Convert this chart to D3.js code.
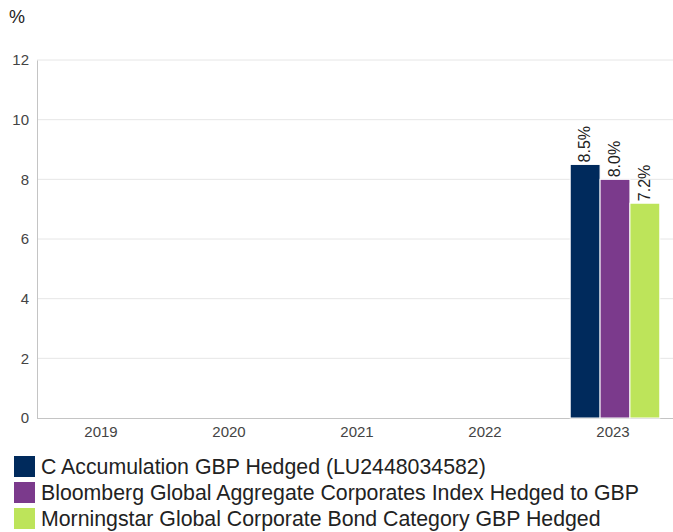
<!DOCTYPE html>
<html>
<head>
<meta charset="utf-8">
<script src="https://cdn.jsdelivr.net/npm/d3@7"></script>
<style>
  body { margin: 0; background: #fff; font-family: Arial, "Liberation Sans", sans-serif; }
</style>
</head>
<body>
<div id="chart"></div>
<script>
const years = ["2019", "2020", "2021", "2022", "2023"];
const seriesNames = [
  "C Accumulation GBP Hedged (LU2448034582)",
  "Bloomberg Global Aggregate Corporates Index Hedged to GBP",
  "Morningstar Global Corporate Bond Category GBP Hedged"
];
const seriesColors = ["#002a5c", "#7b3a8c", "#bde45a"];
// one value per year, null = no data
const fundValues = [null, null, null, null, 8.5];
const indexValues = [null, null, null, null, 8.0];
const categoryValues = [null, null, null, null, 7.2];
const yTicks = [0, 2, 4, 6, 8, 10, 12];

const allSeries = [fundValues, indexValues, categoryValues];
const fontFam = "Arial, 'Liberation Sans', sans-serif";

const W = 673, H = 532;
const margin = { top: 60, right: -4, bottom: 114, left: 37 };
const width = W - margin.left - margin.right;
const height = H - margin.top - margin.bottom;

const svg = d3.select("#chart").append("svg")
  .attr("width", W).attr("height", H);

const g = svg.append("g").attr("transform", `translate(${margin.left},${margin.top})`);

const x = d3.scaleBand().domain(years).range([0, width]).paddingInner(0.3).paddingOuter(0.15);
const x1 = d3.scaleBand().domain(d3.range(seriesNames.length)).range([0, x.bandwidth()]).padding(0);
const y = d3.scaleLinear().domain([0, 12]).range([height, 0]);

// gridlines
g.append("g").selectAll("line").data(yTicks.filter(d => d > 0)).join("line")
  .attr("x1", 0).attr("x2", W)
  .attr("y1", d => y(d)).attr("y2", d => y(d))
  .attr("stroke", "#e6e6e6").attr("stroke-width", 1);

// y axis
const yAxis = g.append("g").call(d3.axisLeft(y).tickValues(yTicks).tickSize(0).tickPadding(8));
yAxis.select(".domain").attr("stroke", "#c4c4c4");
yAxis.selectAll("text").attr("font-size", 15).attr("fill", "#444").attr("font-family", fontFam);

// x axis
const xAxis = g.append("g").attr("transform", `translate(0,${height})`)
  .call(d3.axisBottom(x).tickSize(0).tickPadding(8));
xAxis.select(".domain").attr("stroke", "#c4c4c4").attr("d", `M0,0.5H${W}`);
xAxis.selectAll("text").attr("font-size", 15).attr("fill", "#444").attr("font-family", fontFam);

// bars
const barData = [];
years.forEach((yr, i) => {
  allSeries.forEach((s, k) => {
    if (s[i] != null) barData.push({ year: yr, k: k, v: s[i] });
  });
});

const shift = 2;
g.append("g").selectAll("rect").data(barData).join("rect")
  .attr("x", d => x(d.year) + x1(d.k) + shift)
  .attr("y", d => y(d.v))
  .attr("width", x1.bandwidth())
  .attr("height", d => y(0) - y(d.v))
  .attr("fill", d => seriesColors[d.k])
  .attr("stroke", "#fff").attr("stroke-width", 1);

g.append("g").selectAll("text").data(barData).join("text")
  .attr("transform", d => `translate(${x(d.year) + x1(d.k) + shift + x1.bandwidth() / 2 + 5},${y(d.v) - 2}) rotate(-90)`)
  .attr("font-size", 16).attr("fill", "#222").attr("font-family", fontFam)
  .text(d => d.v.toFixed(1) + "%");

// unit label
svg.append("text").attr("x", 9).attr("y", 23).attr("font-size", 18).attr("fill", "#222")
  .attr("font-family", fontFam).text("%");

// legend
const legend = svg.append("g").attr("transform", "translate(14,456)");
seriesNames.forEach((name, i) => {
  const row = legend.append("g").attr("transform", `translate(0,${i * 26})`);
  row.append("rect").attr("width", 21).attr("height", 21).attr("fill", seriesColors[i]);
  row.append("text").attr("x", 27).attr("y", 18).attr("font-size", 21.3).attr("fill", "#222")
    .attr("font-family", fontFam).text(name);
});
</script>
</body>
</html>
